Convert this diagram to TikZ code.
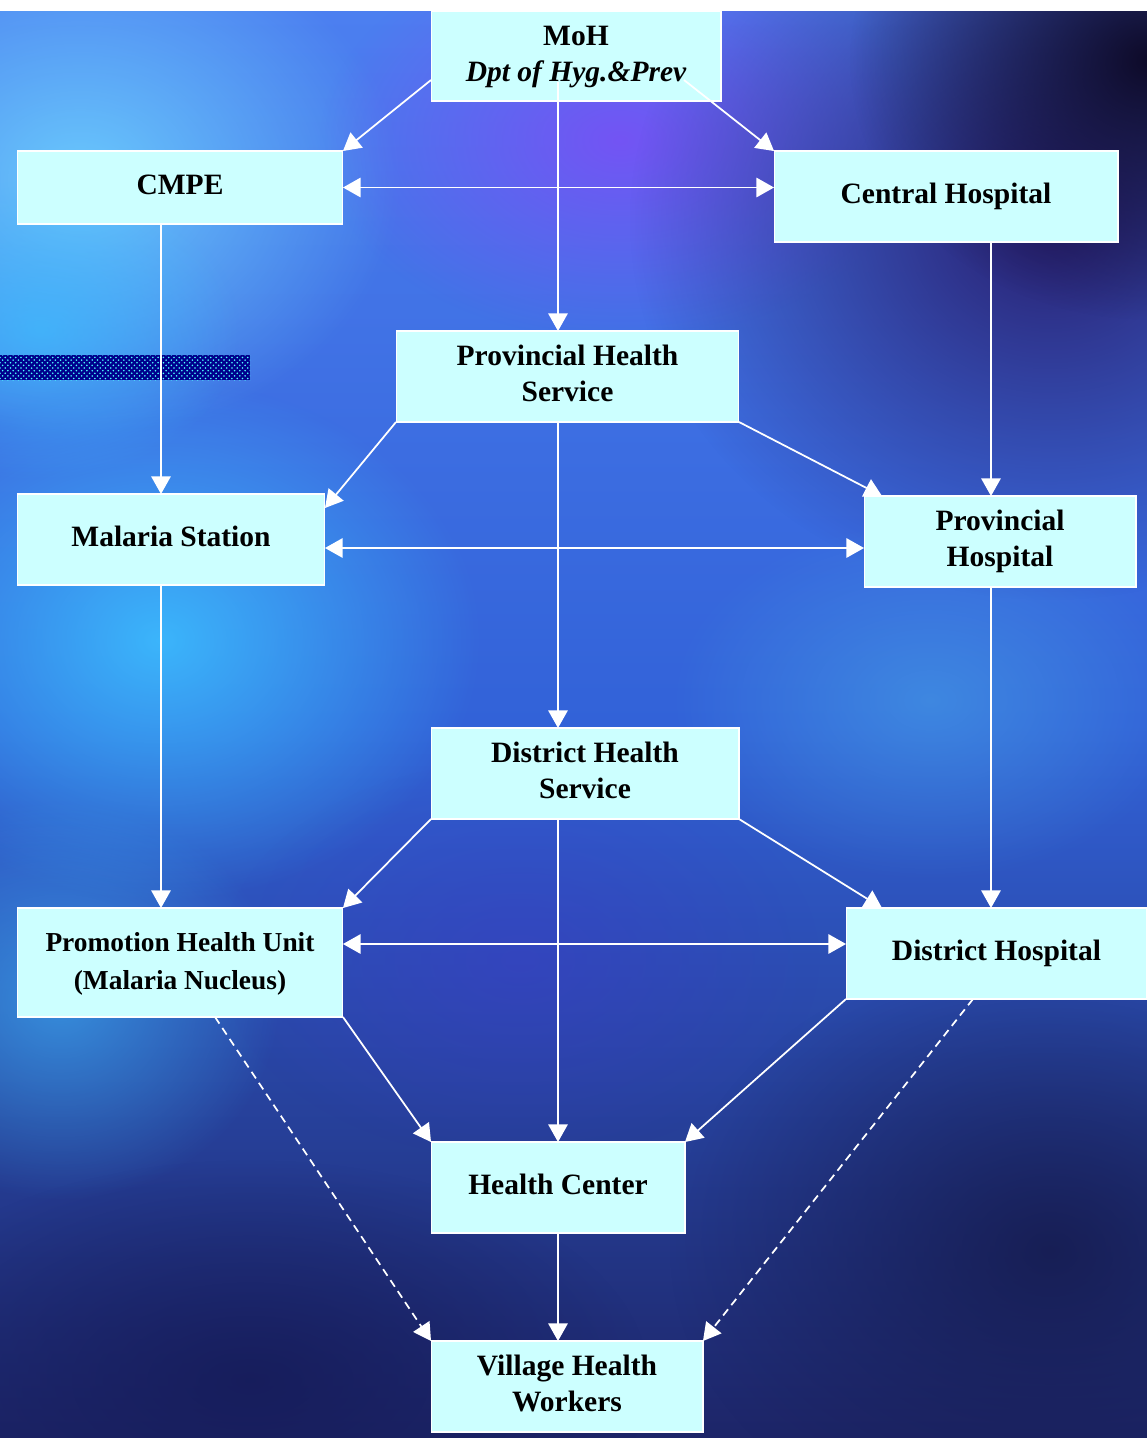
\documentclass[tikz,border=0pt]{standalone}
\usepackage{fontspec}
\setmainfont{Liberation Serif}
\usepackage{tikz}
\usetikzlibrary{arrows.meta}
\usetikzlibrary{calc}
\usetikzlibrary{fadings}
\usetikzlibrary{patterns}

\definecolor{boxcyan}{HTML}{CCFFFF}
\definecolor{bgtop}{HTML}{4C7FF0}
\definecolor{bgmid}{HTML}{3262D8}
\definecolor{bgbot}{HTML}{1D2568}

\tikzfading[name=blobfade, inner color=transparent!0, outer color=transparent!100]

\tikzset{
	box/.style={draw=white, line width=0.6pt, fill=boxcyan, inner sep=0pt, outer sep=0pt,
		font=\fontsize{16.8}{20.5}\selectfont\bfseries},
	link/.style={draw=white, line width=1pt, -{Triangle[length=10pt,width=11pt]}},
	duallink/.style={link, {Triangle[length=10pt,width=11pt]}-{Triangle[length=10pt,width=11pt]}},
	dashlink/.style={link, dash pattern=on 4.5pt off 3pt},
	blob/.style={path fading=blobfade}
}

\begin{document}
\begin{tikzpicture}[x=0.02cm,y=-0.02cm]
		\useasboundingbox (0,0) rectangle (1147,1438);
		
		% background
		\begin{scope}
		\clip (0,11) rectangle (1147,1438);
		\shade[top color=bgtop, bottom color=bgbot, middle color=bgmid] (0,11) rectangle (1147,1438);
		\fill[blob, color={rgb,255:red,110;green,210;blue,255}, fill opacity=0.9] (80,180) ellipse (320 and 260);
		\fill[blob, color={rgb,255:red,60;green,190;blue,255}, fill opacity=0.9] (160,640) ellipse (320 and 260);
		\fill[blob, color={rgb,255:red,60;green,190;blue,255}, fill opacity=0.7] (40,330) ellipse (200 and 150);
		\fill[blob, color={rgb,255:red,120;green,80;blue,245}, fill opacity=0.9] (620,140) ellipse (300 and 200);
		\fill[blob, color={rgb,255:red,40;green,30;blue,110}, fill opacity=1] (1050,220) ellipse (420 and 380);
		\fill[blob, color={rgb,255:red,14;green,10;blue,40}, fill opacity=1] (1150,60) ellipse (300 and 260);
		\fill[blob, color={rgb,255:red,70;green,160;blue,230}, fill opacity=0.6] (930,700) ellipse (260 and 180);
		\fill[blob, color={rgb,255:red,60;green,170;blue,240}, fill opacity=0.7] (60,1000) ellipse (220 and 200);
		\fill[blob, color={rgb,255:red,60;green,60;blue,200}, fill opacity=0.5] (520,960) ellipse (300 and 200);
		\fill[blob, color={rgb,255:red,22;green,28;blue,90}, fill opacity=0.9] (250,1380) ellipse (400 and 220);
		\fill[blob, color={rgb,255:red,22;green,28;blue,80}, fill opacity=0.9] (1050,1250) ellipse (380 and 300);
		\end{scope}
		
		% textured bar
		\fill[blue!55!black] (0,355) rectangle (250,380);
		\fill[pattern=crosshatch dots, pattern color=cyan!70] (0,355) rectangle (250,380);
		
		% boxes
		\node[box, minimum width=5.8cm, minimum height=1.8cm] (moh) at (576,56){\begin{tabular}{c}MoH\\\itshape Dpt of Hyg.\&Prev\end{tabular}};
		\node[box, minimum width=6.52cm, minimum height=1.46cm] (cmpe) at (180,187.5){\begin{tabular}{c}CMPE\end{tabular}};
		\node[box, minimum width=6.88cm, minimum height=1.82cm] (central) at (946,196.5){\begin{tabular}{c}Central Hospital\end{tabular}};
		
		\node[box, minimum width=6.86cm, minimum height=1.82cm] (phs) at (567.5,376.5){\begin{tabular}{c}Provincial Health\\Service\end{tabular}};
		\node[box, minimum width=6.16cm, minimum height=1.82cm] (malaria) at (171,539.5){\begin{tabular}{c}Malaria Station\end{tabular}};
		\node[box, minimum width=5.44cm, minimum height=1.82cm] (provhosp) at (1000,541.5){\begin{tabular}{c}Provincial\\Hospital\end{tabular}};
		
		\node[box, minimum width=6.16cm, minimum height=1.82cm] (dhs) at (585,773.5){\begin{tabular}{c}District Health\\Service\end{tabular}};
		\node[box, minimum width=6.52cm, minimum height=2.18cm, font=\fontsize{15.6}{21.6}\selectfont\bfseries] (phu) at (180,962.5){\begin{tabular}{c}Promotion Health Unit\\(Malaria Nucleus)\end{tabular}};
		\node[box, minimum width=6.02cm, minimum height=1.82cm] (disthosp) at (996.5,953.5){\begin{tabular}{c}District Hospital\end{tabular}};
		
		\node[box, minimum width=5.08cm, minimum height=1.82cm] (hc) at (558,1187.5){\begin{tabular}{c}Health Center\end{tabular}};
		\node[box, minimum width=5.44cm, minimum height=1.82cm] (vhw) at (567,1386.5){\begin{tabular}{c}Village Health\\Workers\end{tabular}};
		
		% connectors
		\coordinate (mohleft) at ($(moh.west)+(0,24)$);
		\coordinate (mohright) at ($(moh.center)+(108,24)$);
		\coordinate (mohdown) at ($(moh.center)+(-18,26)$);
		\draw[link] (mohleft) -- (cmpe.north east);
		\draw[link] (mohright) -- (central.north west);
		\draw[link] (mohdown) -- (mohdown |- phs.north);
		\draw[duallink] (cmpe.east) -- (cmpe.east -| central.west);
		
		\coordinate (cmpedown) at ($(cmpe.south)+(-19,0)$);
		\coordinate (centraldown) at ($(central.south)+(45,0)$);
		\draw[link] (cmpedown) -- (cmpedown |- malaria.north);
		\draw[link] (centraldown) -- (centraldown |- provhosp.north);
		
		\coordinate (phsdown) at ($(phs.south)+(-9.5,0)$);
		\coordinate (malariaright) at ($(malaria.east)+(0,8.5)$);
		\draw[link] (phs.south west) -- ($(malaria.north east)+(0,14)$);
		\draw[link] (phs.south east) -- ($(provhosp.north west)+(18,0)$);
		\draw[link] (phsdown) -- (phsdown |- dhs.north);
		\draw[duallink] (malariaright) -- (malariaright -| provhosp.west);
		
		\coordinate (malariadown) at ($(malaria.south)+(-10,0)$);
		\coordinate (provhospdown) at ($(provhosp.south)+(-9,0)$);
		\draw[link] (malariadown) -- (malariadown |- phu.north);
		\draw[link] (provhospdown) -- (provhospdown |- disthosp.north);
		
		\coordinate (dhsdown) at ($(dhs.south)+(-27,0)$);
		\coordinate (phuright) at ($(phu.east)+(0,-18.5)$);
		\draw[link] (dhs.south west) -- (phu.north east);
		\draw[link] (dhs.south east) -- ($(disthosp.north west)+(36,0)$);
		\draw[link] (dhsdown) -- (hc.north);
		\draw[duallink] (phuright) -- (phuright -| disthosp.west);
		
		\draw[link] (phu.south east) -- (hc.north west);
		\draw[link] (disthosp.south west) -- (hc.north east);
		\draw[dashlink] ($(phu.south)+(35,0)$) -- (vhw.north west);
		\draw[dashlink] ($(disthosp.south)+(-23.5,0)$) -- (vhw.north east);
		\draw[link] (hc.south) -- (hc.south |- vhw.north);
		
		\end{tikzpicture}
\end{document}
